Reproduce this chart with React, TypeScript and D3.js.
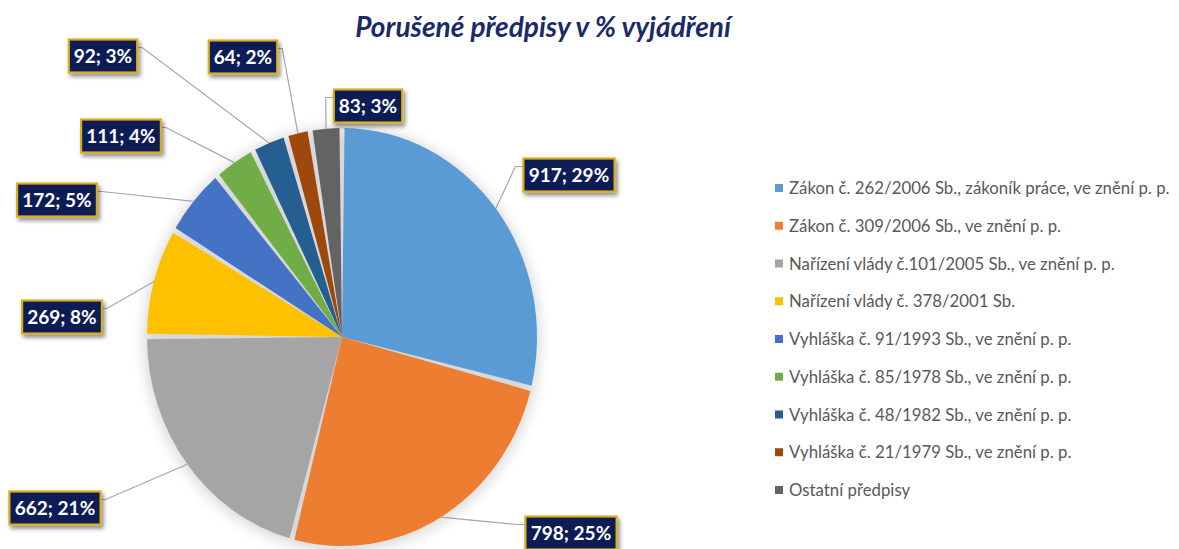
import React from 'react'
import * as d3 from 'd3'

const title = 'Porušené předpisy v % vyjádření'

const categories = [
  'Zákon č. 262/2006 Sb., zákoník práce, ve znění p. p.',
  'Zákon č. 309/2006 Sb., ve znění p. p.',
  'Nařízení vlády č.101/2005 Sb., ve znění p. p.',
  'Nařízení vlády č. 378/2001 Sb.',
  'Vyhláška č. 91/1993 Sb., ve znění p. p.',
  'Vyhláška č. 85/1978 Sb., ve znění p. p.',
  'Vyhláška č. 48/1982 Sb., ve znění p. p.',
  'Vyhláška č. 21/1979 Sb., ve znění p. p.',
  'Ostatní předpisy',
]

const counts = [917, 798, 662, 269, 172, 111, 92, 64, 83]

const colors = ['#5B9BD5', '#ED7D31', '#A5A5A5', '#FFC000', '#4472C4', '#70AD47', '#255E91', '#9E480E', '#636363']

// where the data label boxes sit (centres), as in the original layout
const labelSpots: [number, number][] = [
  [569, 175], [571, 533], [55, 508], [62, 317], [57, 200],
  [121, 136], [103, 56], [243, 57], [368, 106],
]

const W = 1179
const H = 549
const cx = 342
const cy = 337
const R = 209
const rx = 195

export default function App() {
  const total = d3.sum(counts)
  const pct = d3.format('.0%')
  const arcs = d3.pie<number>().sort(null).value(d => d)(counts)
  // gap between slices without shifting their angles
  const arc = d3.arc<d3.PieArcDatum<number>>()
    .innerRadius(0)
    .outerRadius(R)
    .padAngle(() => 0.026)
    .padRadius(R)

  const legendY = d3.scalePoint<string>()
    .domain(categories)
    .range([188, 490])

  return (
    <svg width={W} height={H} style={{ position: 'absolute', left: 0, top: 0, background: '#fff' }}
      fontFamily="Lato, 'Open Sans', sans-serif">
      <defs>
        <filter id="pieShadow" x="-20%" y="-20%" width="140%" height="140%">
          <feGaussianBlur stdDeviation="7" />
        </filter>
        <filter id="boxShadow" x="-20%" y="-30%" width="150%" height="170%">
          <feDropShadow dx="2" dy="3" stdDeviation="2" floodColor="#000" floodOpacity="0.45" />
        </filter>
      </defs>

      <text x={543} y={37} textAnchor="middle" fontSize={28} fontWeight="bold" fontStyle="italic" fill="#1b2a68">
        {title}
      </text>

      <ellipse cx={cx} cy={cy + 2} rx={rx + 3} ry={R + 3} fill="#000" opacity={0.15} filter="url(#pieShadow)" />
      <g transform={`translate(${cx},${cy}) scale(${rx / R},1)`}>
        {arcs.map((a, i) => (
          <path key={i} d={arc(a) || ''} fill={colors[i]} />
        ))}
      </g>

      {arcs.map((a, i) => {
        const mid = (a.startAngle + a.endAngle) / 2
        const ex = cx + rx * Math.sin(mid)
        const ey = cy - R * Math.cos(mid)
        const txt = `${counts[i]}; ${pct(counts[i] / total)}`
        const bw = txt.length * 11.4
        const bh = 33
        const [bx, by] = labelSpots[i]
        const left = bx - bw / 2
        const top = by - bh / 2
        const onLeft = bx < ex
        const ax = onLeft ? left + bw : left
        const ay = top + 8
        const elx = onLeft ? ax + 5 : ax - 8
        return (
          <g key={i}>
            <polyline points={`${ex},${ey} ${elx},${ay} ${ax},${ay}`} fill="none" stroke="#a6a6a6" strokeWidth={1.2} />
            <rect x={left} y={top} width={bw} height={bh} fill="#0b1d55" stroke="#d9ae1c" strokeWidth={2.2} filter="url(#boxShadow)" />
            <text x={bx} y={by + 7} textAnchor="middle" fontSize={19} fontWeight="bold" fill="#fff">{txt}</text>
          </g>
        )
      })}

      {categories.map((c, i) => (
        <g key={c} transform={`translate(775,${legendY(c)})`}>
          <rect x={0} y={-4} width={8} height={8} fill={colors[i]} />
          <text x={14} y={6} fontSize={16.8} fill="#595959">{c}</text>
        </g>
      ))}
    </svg>
  )
}
